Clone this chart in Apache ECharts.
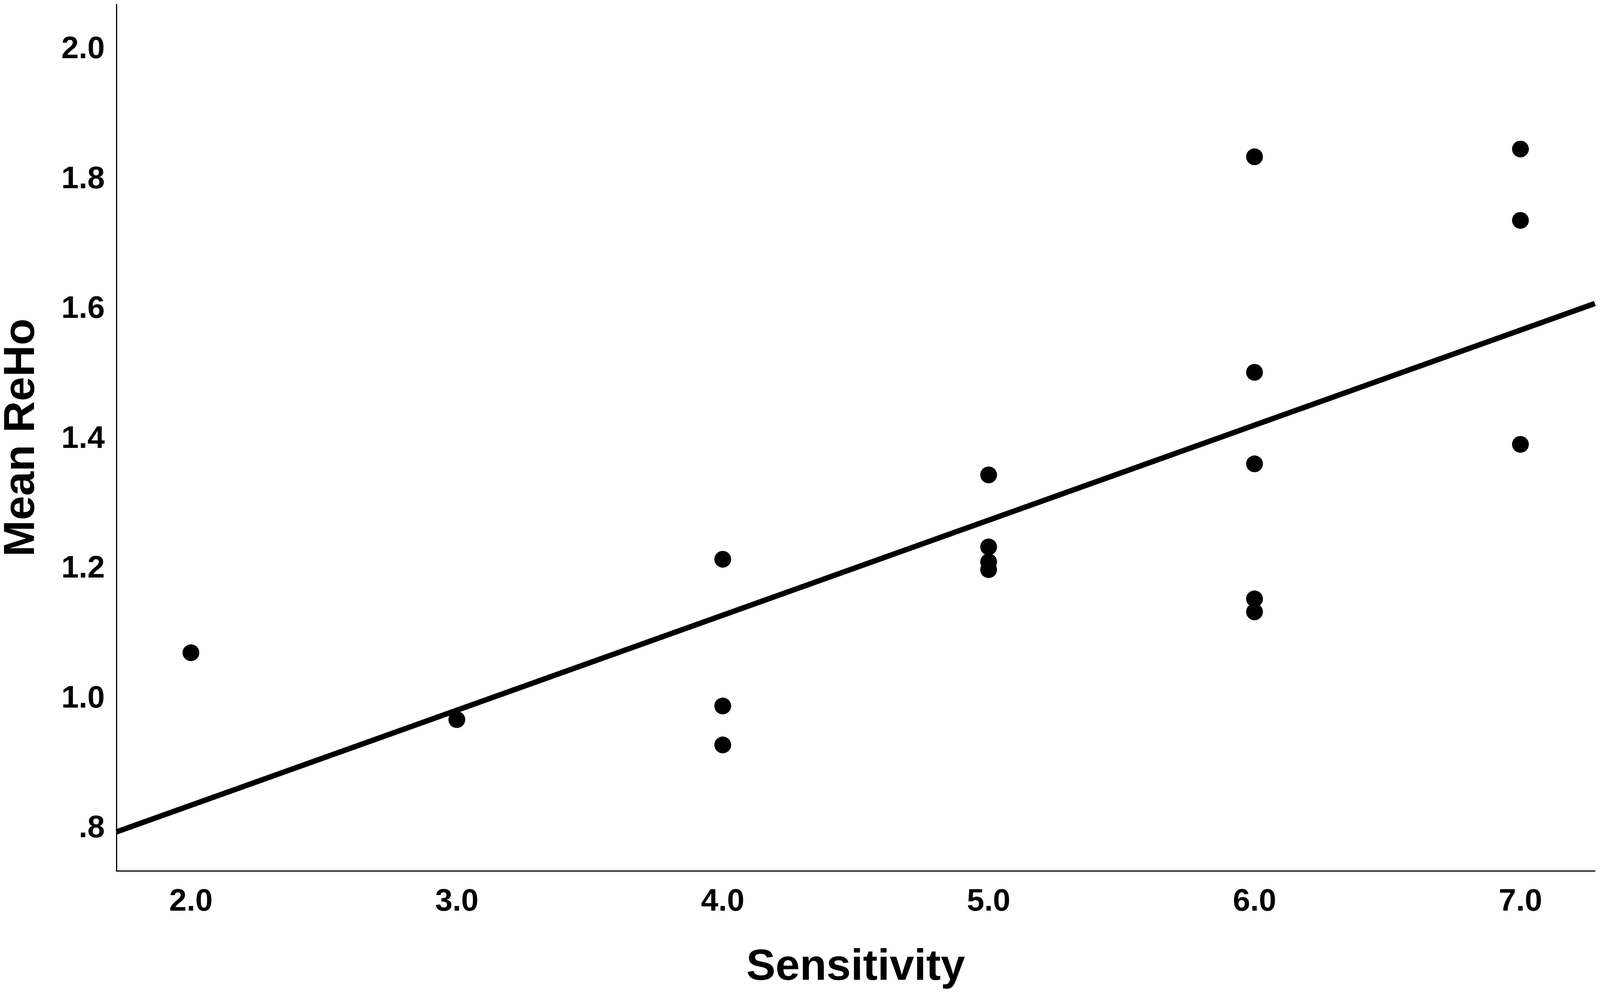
<!DOCTYPE html>
<html>
<head>
<meta charset="utf-8">
<script src="https://cdn.jsdelivr.net/npm/echarts@6/dist/echarts.min.js"></script>
<style>
	html, body { margin: 0; padding: 0; width: 100%; height: 100%; overflow: hidden; background: #fff; }
	#chart { width: 100%; height: 100%; }
</style>
</head>
<body>
<div id="chart"></div>
<script>
	'use strict'
	/*----data----*/
	var sensitivity = [2, 3, 4, 4, 4, 5, 5, 5, 5, 6, 6, 6, 6, 6, 7, 7, 7];
	var meanReho = [1.071, 0.968, 1.215, 0.989, 0.929, 1.345, 1.234, 1.211, 1.199, 1.835, 1.503, 1.362, 1.154, 1.134, 1.847, 1.737, 1.392];
	var fitX = [1.72, 7.28];
	var fitY = [0.795, 1.609];
	var xTicks = [2, 3, 4, 5, 6, 7];
	var yTicks = [0.8, 1.0, 1.2, 1.4, 1.6, 1.8, 2.0];

	var points = sensitivity.map(function(x, i) {
		return [x, meanReho[i]];
	});
	var fitLine = fitX.map(function(x, i) {
		return [x, fitY[i]];
	});

	var labelFont = {
		fontFamily: '"Liberation Sans Narrow", "Liberation Sans", sans-serif',
		fontWeight: 'bold',
		fontSize: 80,
		color: '#000'
	};
	var titleFont = {
		fontFamily: 'Liberation Sans',
		fontWeight: 'bold',
		fontSize: 112,
		color: '#000'
	};

	/*----scatter----*/
	var chart = echarts.init(document.getElementById('chart'));
	var option = {
		animation: false,
		backgroundColor: '#fff',
		grid: {
			left: '7.28%',
			right: '0.32%',
			top: '0.43%',
			bottom: '12.48%',
			outerBoundsMode: 'none'
		},
		xAxis: {
			type: 'value',
			min: 1.72,
			max: 7.28,
			name: 'Sensitivity',
			nameLocation: 'middle',
			nameGap: 192,
			nameTextStyle: titleFont,
			axisLine: {
				lineStyle: { color: '#000', width: 3 }
			},
			axisTick: { show: false },
			splitLine: { show: false },
			axisLabel: Object.assign({
				customValues: xTicks,
				margin: 40,
				formatter: function(v) { return v.toFixed(1); }
			}, labelFont)
		},
		yAxis: {
			type: 'value',
			min: 0.735,
			max: 2.07,
			name: 'Mean ReHo',
			nameLocation: 'middle',
			nameGap: 186,
			nameRotate: 90,
			nameTextStyle: titleFont,
			axisLine: {
				show: true,
				lineStyle: { color: '#000', width: 3 }
			},
			axisTick: { show: false },
			splitLine: { show: false },
			axisLabel: Object.assign({
				customValues: yTicks,
				margin: 30,
				formatter: function(v) {
					var s = v.toFixed(1);
					return v < 1 ? s.replace(/^0/, '') : s;
				}
			}, labelFont)
		},
		series: [{
			type: 'scatter',
			data: points,
			symbol: 'circle',
			symbolSize: 43,
			itemStyle: { color: '#000', opacity: 1 }
		}, {
			type: 'line',
			data: fitLine,
			symbol: 'none',
			lineStyle: { color: '#000', width: 14 },
			z: 1
		}]
	};
	chart.setOption(option);
</script>
</body>
</html>
